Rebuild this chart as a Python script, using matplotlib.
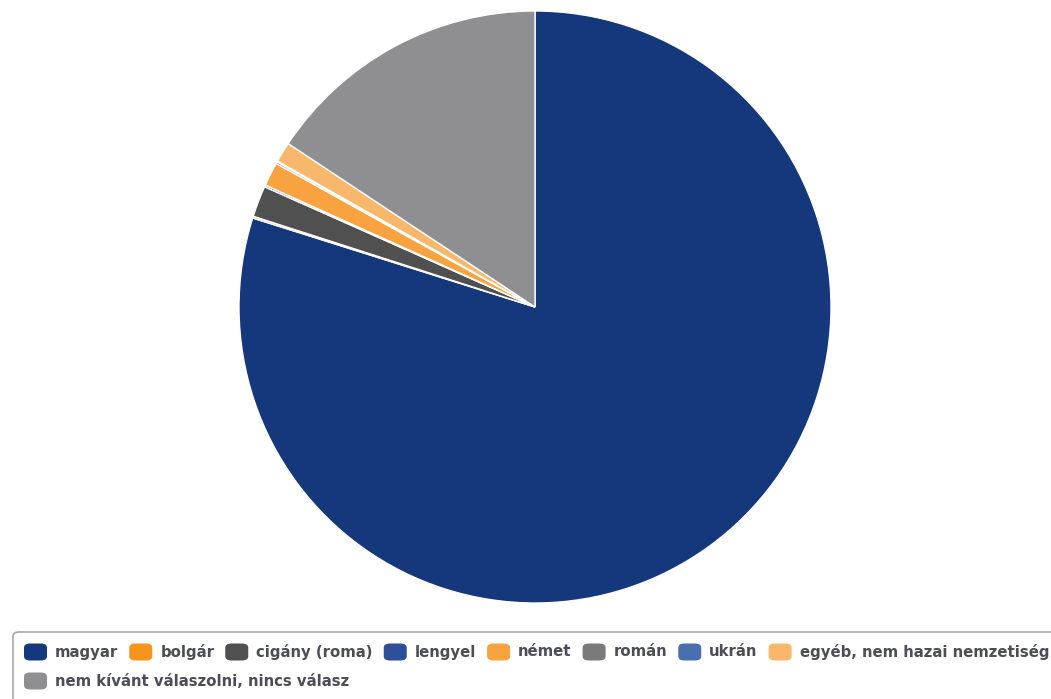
import matplotlib
matplotlib.use("Agg")
import matplotlib.pyplot as plt
from matplotlib.patches import FancyBboxPatch

categories = ["magyar", "bolgár", "cigány (roma)", "lengyel", "német", "román",
              "ukrán", "egyéb, nem hazai nemzetiség", "nem kívánt válaszolni, nincs válasz"]
values = [79.9, 0.1, 1.7, 0.1, 1.3, 0.1, 0.05, 1.1, 15.7]
colors = ["#15387d", "#f7941d", "#505050", "#2e4f9a", "#f8a340", "#7a7a7a",
          "#4a6fae", "#f8b86c", "#8f8f91"]

W, H = 1051, 699
fig = plt.figure(figsize=(W / 100, H / 100), dpi=100)

cx, cy, r = 535, 307, 296
ax = fig.add_axes([(cx - r) / W, (H - cy - r) / H, 2 * r / W, 2 * r / H])
ax.pie(values, colors=colors, startangle=90, counterclock=False, radius=1,
       wedgeprops=dict(edgecolor="white", linewidth=1.0))
ax.set_xlim(-1, 1)
ax.set_ylim(-1, 1)
ax.set_axis_off()

# legend box
box = FancyBboxPatch((13 / W, -20 / H), (W + 20) / W, (H - 632 + 20) / H,
                     boxstyle="round,pad=0,rounding_size=0.006",
                     transform=fig.transFigure, facecolor="white",
                     edgecolor="#a8a8a8", linewidth=1.2)
fig.patches.append(box)

renderer = fig.canvas.get_renderer()
rows_y = [652, 681]
x = 24
row = 0
mw, mh = 23, 17
fs = 10.7
for i, (lab, col) in enumerate(zip(categories, colors)):
    if i == 8:
        row = 1
        x = 24
    y = rows_y[row]
    m = FancyBboxPatch((x / W, (H - y - mh / 2) / H), mw / W, mh / H,
                       boxstyle="round,pad=0,rounding_size=0.006",
                       transform=fig.transFigure, facecolor=col, edgecolor="none")
    fig.patches.append(m)
    t = fig.text((x + mw + 8) / W, (H - y) / H, lab, fontsize=fs, color="#4d4d58",
                 va="center", ha="left", family="DejaVu Sans", fontweight="bold")
    bb = t.get_window_extent(renderer=renderer)
    x = bb.x1 + 11

fig.savefig("out.png", dpi=100)
